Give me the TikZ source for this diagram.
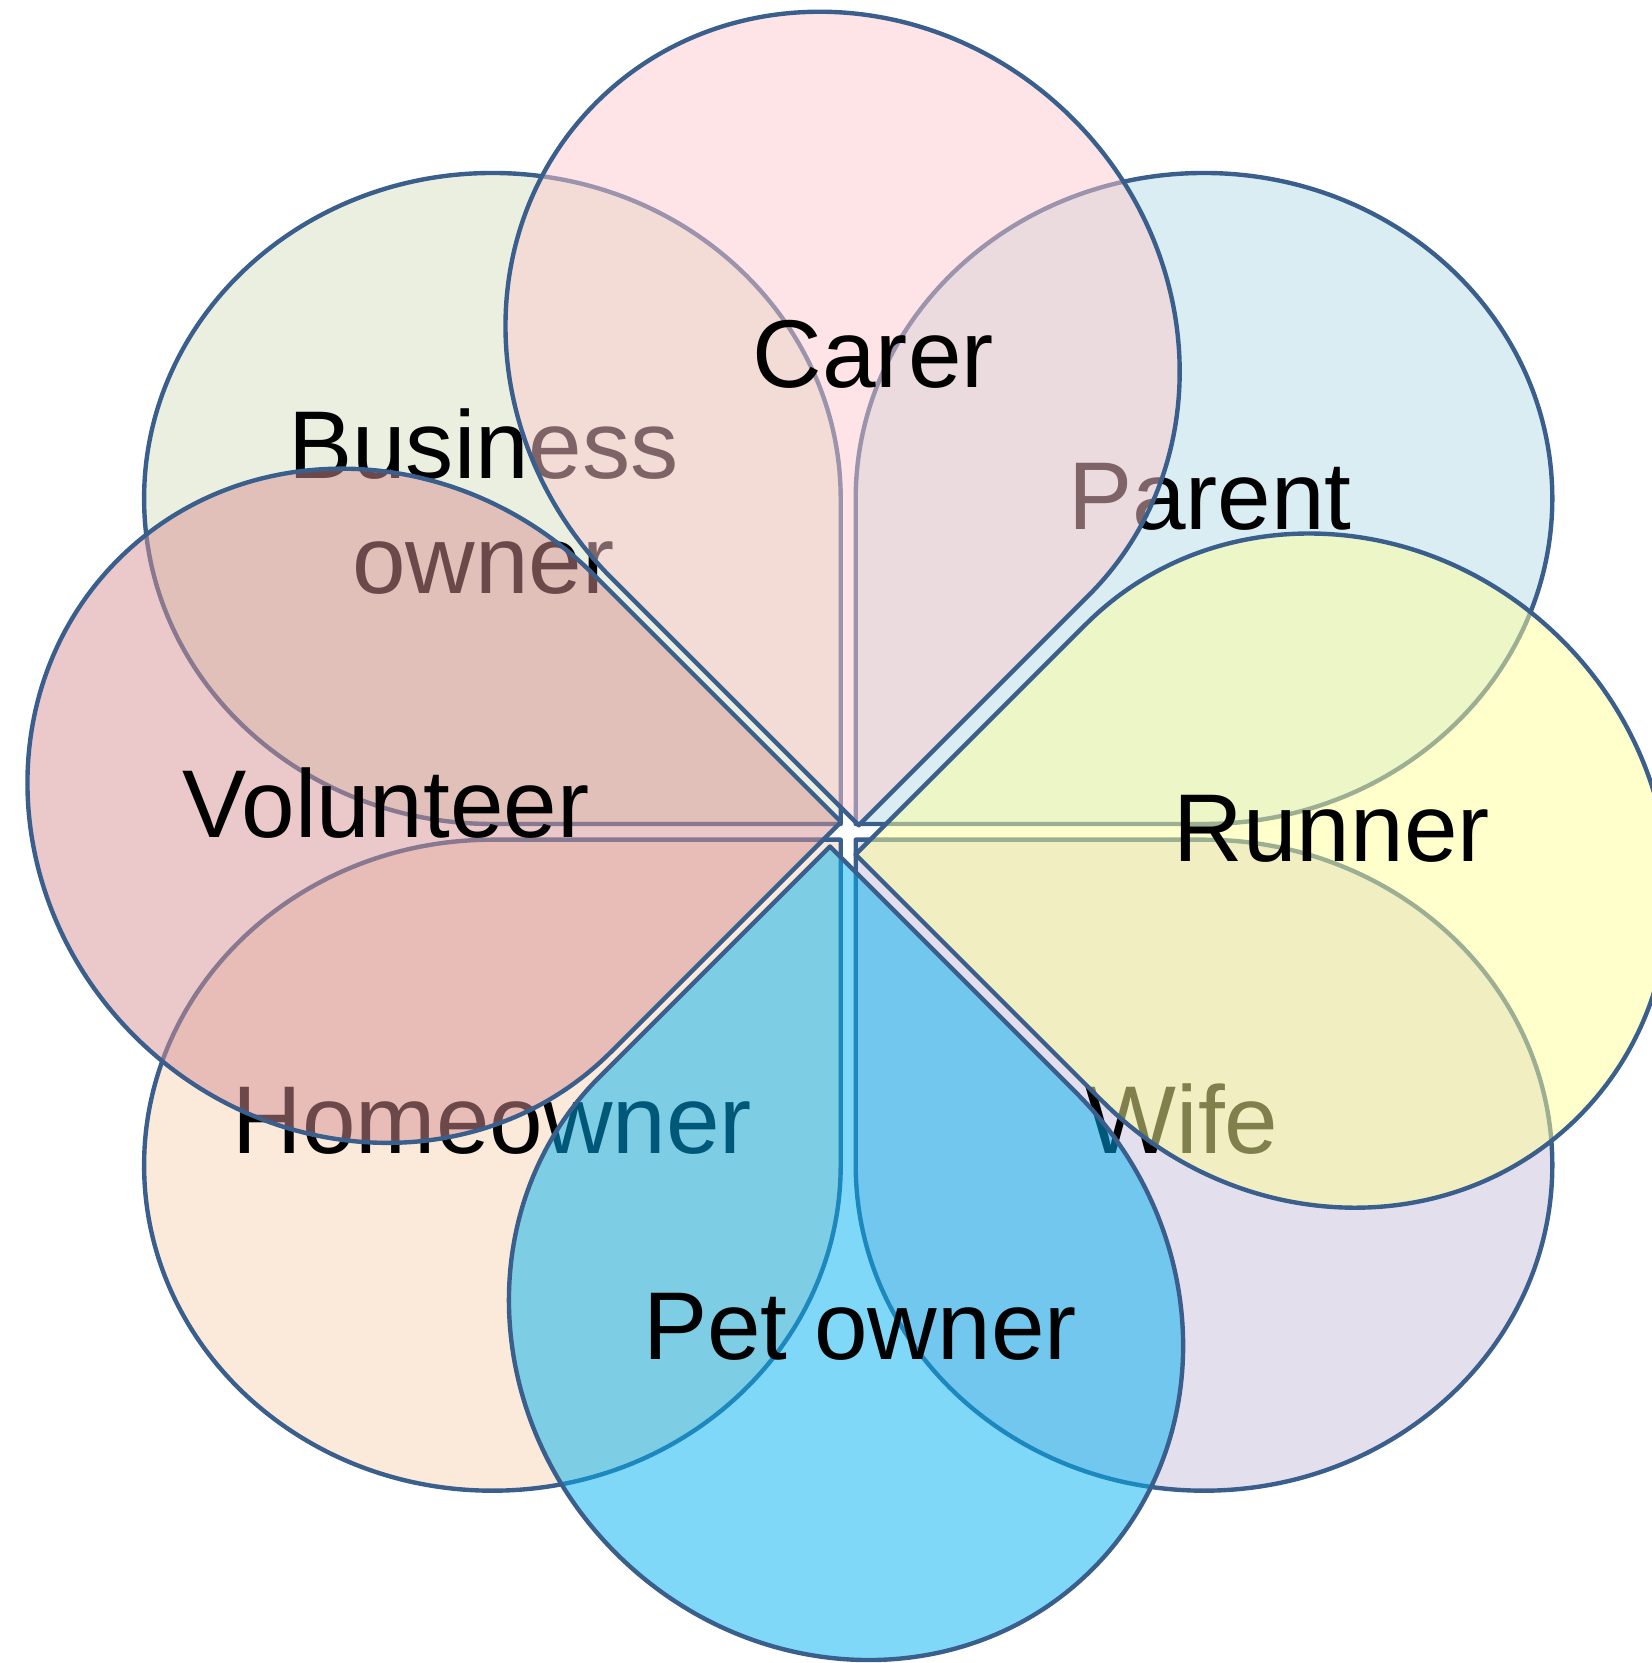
\documentclass[tikz,border=0pt]{standalone}
\usepackage{fontspec}
\setmainfont{Liberation Sans}
\definecolor{edgeblue}{RGB}{58,95,140}
\definecolor{cBO}{RGB}{215,223,191}
\definecolor{cParent}{RGB}{181,219,231}
\definecolor{cHome}{RGB}{247,211,181}
\definecolor{cWife}{RGB}{201,191,217}
\definecolor{cCarer}{RGB}{253,201,205}
\definecolor{cRunner}{RGB}{255,255,153}
\definecolor{cPet}{RGB}{1,177,241}
\definecolor{cVol}{RGB}{215,145,149}
\tikzset{
  petal/.style={draw=edgeblue, line width=1.25pt, fill opacity=0.5, line join=round},
  lbl/.style={anchor=base, inner sep=0pt, text=black, font=\fontsize{27.4}{32}\selectfont}
}
\begin{document}
\begin{tikzpicture}
\useasboundingbox (0,0) rectangle (16.52,16.63);
\clip (0,0) rectangle (16.52,16.63);
% Business owner
\draw[petal, fill=cBO, shift={(8.407,8.390)}] (0,0) -- (0,3.255) arc[start angle=0, end angle=270, x radius=3.483cm, y radius=3.255cm] -- cycle;
\node[lbl] (bo1) at (4.835,11.840) {Business};
\node[lbl] (bo2) at (4.835,10.692) {owner};
% Parent
\draw[petal, fill=cParent, shift={(8.557,8.390)}, xscale=-1] (0,0) -- (0,3.255) arc[start angle=0, end angle=270, x radius=3.483cm, y radius=3.255cm] -- cycle;
\node[lbl] (parent) at (12.099,11.330) {Parent};
% Homeowner
\draw[petal, fill=cHome, shift={(8.407,8.233)}, yscale=-1] (0,0) -- (0,3.255) arc[start angle=0, end angle=270, x radius=3.483cm, y radius=3.255cm] -- cycle;
\node[lbl] (home) at (4.925,5.094) {Homeowner};
% Wife
\draw[petal, fill=cWife, shift={(8.557,8.233)}, xscale=-1, yscale=-1] (0,0) -- (0,3.255) arc[start angle=0, end angle=270, x radius=3.483cm, y radius=3.255cm] -- cycle;
\node[lbl] (wife) at (11.820,5.094) {Wife};
% Carer
\draw[petal, fill=cCarer, shift={(8.587,8.377)}, rotate=-45] (0,0) -- (0,3.255) arc[start angle=0, end angle=270, x radius=3.483cm, y radius=3.255cm] -- cycle;
\node[lbl] (carer) at (8.733,12.757) {Carer};
% Runner
\draw[petal, fill=cRunner, shift={(8.556,8.085)}, rotate=135, yscale=-1] (0,0) -- (0,3.255) arc[start angle=0, end angle=270, x radius=3.483cm, y radius=3.255cm] -- cycle;
\node[lbl] (runner) at (13.318,8.010) {Runner};
% Pet owner
\draw[petal, fill=cPet, shift={(8.299,8.165)}, rotate=135] (0,0) -- (0,3.255) arc[start angle=0, end angle=270, x radius=3.483cm, y radius=3.255cm] -- cycle;
\node[lbl] (pet) at (8.600,3.037) {Pet owner};
% Volunteer
\draw[petal, fill=cVol, shift={(8.410,8.411)}, rotate=-45, yscale=-1] (0,0) -- (0,3.255) arc[start angle=0, end angle=270, x radius=3.483cm, y radius=3.255cm] -- cycle;
\node[lbl] (vol) at (3.860,8.254) {Volunteer};
\end{tikzpicture}
\end{document}
